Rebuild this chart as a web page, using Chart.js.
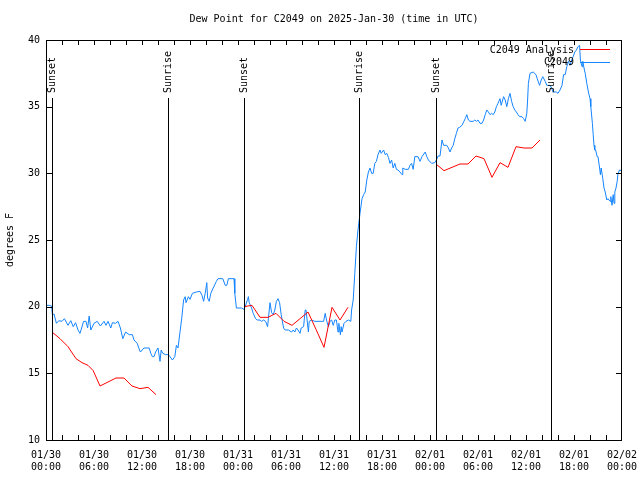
<!DOCTYPE html>
<html>
<head>
<meta charset="utf-8">
<title>Dew Point for C2049</title>
<script src="https://cdn.jsdelivr.net/npm/chart.js@4/dist/chart.umd.min.js"></script>
<style>
  html, body { margin: 0; padding: 0; background: #fff; }
  #chart { display: block; }
</style>
</head>
<body>
<canvas id="chart" width="640" height="480"></canvas>
<script>
// Hours after 2025-01-30 00:00 UTC
var dayLabels = ['01/30', '01/30', '01/30', '01/30', '01/31', '01/31', '01/31', '01/31', '02/01', '02/01', '02/01', '02/01', '02/02'];
var timeLabels = ['00:00', '06:00', '12:00', '18:00'];
var yTicks = [10, 15, 20, 25, 30, 35, 40];

// C2049 observations
var obsHours = [
  0.0, 0.4, 0.7, 0.8, 1.0, 1.3, 1.6, 2.0, 2.3, 2.75, 3.1, 3.4, 3.7, 4.0, 4.25, 4.7, 5.0, 5.2, 5.4, 5.6,
  6.0, 6.4, 6.8, 7.25, 7.5, 7.75, 8.1, 8.3, 8.7, 9.0, 9.3, 9.6, 9.95, 10.4, 10.8, 11.0, 11.4, 11.6, 11.8, 12.25,
  12.9, 13.1, 13.3, 13.5, 13.7, 14.0, 14.25, 14.4, 14.6, 14.96, 15.3, 15.5, 15.8, 16.1, 16.3, 16.5, 16.75, 16.96, 17.2, 17.4,
  17.5, 17.8, 18.0, 18.3, 18.8, 19.25, 19.5, 19.7, 19.9, 20.1, 20.2, 20.4, 20.6, 20.9, 21.3, 21.5, 22.1, 22.4, 22.6, 22.8,
  23.5, 23.6, 23.8, 24.45, 24.75, 24.9, 25.2, 25.3, 25.4, 25.7, 25.9, 26.2, 26.4, 26.75, 26.95, 27.2, 27.45, 27.7, 27.8, 28.0,
  28.2, 28.4, 28.6, 28.8, 29.0, 29.2, 29.4, 29.7, 29.9, 30.3, 30.7, 30.9, 31.1, 31.3, 31.5, 31.75, 31.9, 32.2, 32.4, 32.5,
  32.8, 32.9, 33.2, 33.6, 34.0, 34.4, 34.7, 34.9, 35.1, 35.3, 35.5, 35.7, 35.9, 36.1, 36.3, 36.5, 36.6, 36.8, 36.9, 37.0,
  37.25, 37.5, 37.8, 38.1, 38.2, 38.4, 38.6, 38.8, 39.0, 39.25, 39.5, 39.7, 39.9, 40.1, 40.3, 40.5, 40.7, 40.9, 41.1, 41.3,
  41.5, 41.75, 41.9, 42.2, 42.4, 42.6, 42.8, 43.0, 43.2, 43.4, 43.6, 43.8, 44.0, 44.25, 44.5, 44.6, 44.9, 45.3, 45.5, 45.7,
  45.9, 46.1, 46.5, 46.75, 47.0, 47.4, 47.6, 47.8, 48.2, 48.6, 48.8, 49.0, 49.25, 49.5, 49.7, 50.1, 50.3, 50.5, 50.7, 50.9,
  51.1, 51.3, 51.5, 51.7, 52.0, 52.1, 52.4, 52.6, 52.8, 53.0, 53.4, 53.6, 53.8, 54.0, 54.25, 54.5, 54.7, 54.9, 55.1, 55.3,
  55.5, 55.7, 55.9, 56.1, 56.3, 56.5, 56.75, 56.9, 57.2, 57.4, 57.6, 57.8, 58.0, 58.2, 58.4, 58.6, 58.8, 59.0, 59.2, 59.5,
  59.7, 59.9, 60.1, 60.2, 60.3, 60.5, 60.9, 61.25, 61.4, 61.7, 61.9, 62.1, 62.4, 62.6, 63.0, 63.2, 63.4, 63.8, 64.0, 64.25,
  64.5, 64.7, 64.9, 65.1, 65.3, 65.5, 65.7, 65.9, 66.1, 66.3, 66.5, 66.7, 66.8, 67.0, 67.1, 67.25, 67.4, 67.6, 67.8, 68.0,
  68.1, 68.3, 68.4, 68.5, 68.6, 68.7, 68.9, 69.0, 69.2, 69.3, 69.4, 69.6, 69.75, 69.9, 70.1, 70.25, 70.5, 70.6, 70.75, 70.9,
  71.0, 71.1, 71.25, 71.4, 71.5, 71.7, 71.9
];
var obsDewPoint = [
  20.1, 20.1, 20.05, 19.4, 19.45, 18.75, 18.95, 18.9, 19.1, 18.6, 18.95, 18.5, 18.8, 18.25, 18.0, 18.9, 18.9, 18.4, 19.3, 18.25,
  18.75, 18.9, 18.55, 18.9, 18.6, 18.9, 18.4, 18.8, 18.75, 18.9, 18.4, 17.6, 18.1, 17.9, 17.9, 17.5, 17.25, 16.9, 16.6, 16.9,
  16.9, 16.5, 16.25, 16.25, 16.6, 16.9, 15.9, 16.75, 16.5, 16.4, 16.4, 16.25, 16.0, 16.25, 17.1, 16.9, 18.1, 19.1, 20.5, 20.75,
  20.3, 20.75, 20.55, 21.0, 21.1, 21.15, 20.85, 20.4, 21.0, 21.8, 20.65, 20.4, 21.0, 21.4, 21.9, 22.1, 22.1, 21.6, 21.6, 22.1,
  22.1, 21.0, 19.9, 19.9, 19.8, 20.0, 20.55, 20.75, 20.3, 19.9, 19.5, 19.1, 19.0, 19.0, 18.9, 19.0, 18.9, 18.5, 19.1, 20.3,
  19.55, 19.4, 19.75, 20.4, 20.6, 20.3, 19.4, 18.4, 18.25, 18.25, 18.1, 18.25, 18.1, 18.4, 18.25, 18.0, 18.4, 18.5, 19.75, 19.75,
  18.1, 18.9, 19.0, 18.9, 18.9, 18.9, 18.9, 19.5, 18.9, 18.5, 18.9, 19.0, 18.6, 19.0, 19.0, 18.1, 18.75, 17.9, 18.5, 18.1,
  18.75, 18.9, 19.0, 18.9, 19.75, 20.5, 22.5, 24.5, 25.75, 27.0, 28.1, 28.4, 28.6, 29.5, 30.1, 30.4, 30.0, 30.0, 30.75, 30.9,
  31.4, 31.75, 31.5, 31.75, 31.4, 31.5, 31.2, 30.75, 31.0, 30.4, 30.75, 30.3, 30.25, 30.1, 29.9, 30.4, 30.3, 30.3, 30.6, 30.75,
  30.3, 31.25, 31.25, 30.9, 31.25, 31.6, 31.25, 31.0, 30.75, 30.8, 31.0, 31.3, 31.3, 32.5, 32.1, 32.1, 31.9, 31.6, 31.9, 32.1,
  32.6, 33.0, 33.4, 33.45, 33.6, 33.6, 34.1, 34.4, 34.0, 33.9, 33.9, 34.0, 33.9, 34.0, 33.75, 33.75, 34.0, 34.4, 34.75, 34.6,
  34.4, 34.5, 34.4, 34.6, 35.0, 35.25, 35.6, 35.1, 35.75, 35.5, 35.0, 35.6, 36.0, 35.4, 35.0, 34.75, 34.6, 34.4, 34.25, 34.25,
  34.1, 33.9, 34.5, 35.5, 36.75, 37.5, 37.6, 37.4, 37.1, 36.6, 37.0, 37.25, 36.9, 36.6, 36.6, 36.4, 36.1, 36.1, 36.0, 36.25,
  36.6, 37.4, 37.4, 38.0, 38.4, 38.1, 38.5, 38.75, 39.1, 39.25, 39.5, 39.6, 38.5, 38.0, 38.4, 37.9, 37.5, 36.75, 36.1, 35.6,
  35.0, 33.75, 32.9, 32.1, 31.75, 31.75, 31.25, 31.25, 30.4, 29.9, 30.4, 29.6, 28.9, 28.6, 28.0, 28.1, 27.9, 28.25, 27.6, 28.4,
  27.75, 28.6, 28.9, 29.4, 30.0, 30.25, 30.2
];

// C2049 Analysis (gaps between the three runs)
var anaHours = [
  0.75, 1.75, 2.75, 3.75, 4.5, 5.25, 5.9, 6.75, 7.75, 8.75, 9.75, 10.75, 11.75, 12.75, 13.75,
  19.0,
  24.75, 25.75, 26.75, 27.75, 28.75, 29.75, 30.75, 31.75, 32.75, 33.75, 34.75, 35.75, 36.75, 37.75,
  43.0,
  48.75, 49.75, 50.75, 51.75, 52.75, 53.75, 54.75, 55.75, 56.75, 57.75, 58.75, 59.75, 60.75, 61.75
];
var anaDewPoint = [
  18.1, 17.6, 17.0, 16.1, 15.8, 15.6, 15.2, 14.05, 14.35, 14.65, 14.65, 14.05, 13.85, 13.95, 13.4,
  null,
  20.0, 20.1, 19.2, 19.2, 19.5, 18.9, 18.6, 19.1, 19.6, 18.3, 16.95, 19.95, 19.0, 19.95,
  null,
  30.7, 30.2, 30.45, 30.7, 30.7, 31.3, 31.1, 29.7, 30.8, 30.45, 32.0, 31.9, 31.9, 32.5
];

// Sunrise / sunset markers
var sunHours = [0.78, 15.28, 24.78, 39.15, 48.78, 63.17];
var sunNames = ['Sunset', 'Sunrise', 'Sunset', 'Sunrise', 'Sunset', 'Sunrise'];

var FONT = "'DejaVu Sans Mono', 'Liberation Mono', monospace";
var RED = '#ff0000';
var BLUE = '#1484ff';

function toPoints(xs, ys) {
  return xs.map(function(x, i) { return { x: x, y: ys[i] }; });
}

// gnuplot-ish frame, inward ticks, sun lines, title, legend
var framePlugin = {
  id: 'frame',
  afterDatasetsDraw: function(chart) {
    var ctx = chart.ctx;
    var a = chart.chartArea;
    var xs = chart.scales.x;
    var ys = chart.scales.y;
    ctx.save();
    ctx.strokeStyle = '#000';
    ctx.lineWidth = 1;

    // sunrise / sunset
    ctx.fillStyle = '#000';
    ctx.font = '10px ' + FONT;
    for (var i = 0; i < sunHours.length; i++) {
      var sx = Math.round(xs.getPixelForValue(sunHours[i])) + 0.5;
      ctx.beginPath();
      ctx.moveTo(sx, 98);
      ctx.lineTo(sx, a.bottom);
      ctx.stroke();
      ctx.save();
      ctx.translate(sx, 93);
      ctx.rotate(-Math.PI / 2);
      ctx.textAlign = 'left';
      ctx.textBaseline = 'middle';
      ctx.fillText(sunNames[i], 0, 0);
      ctx.restore();
    }

    // border
    ctx.strokeRect(a.left + 0.5, a.top + 0.5, a.right - a.left - 1, a.bottom - a.top);

    // x ticks every 2 h, top and bottom
    ctx.beginPath();
    for (var h = 2; h < 72; h += 2) {
      var tx = Math.round(xs.getPixelForValue(h)) + 0.5;
      ctx.moveTo(tx, a.bottom);
      ctx.lineTo(tx, a.bottom - 5);
      ctx.moveTo(tx, a.top);
      ctx.lineTo(tx, a.top + 5);
    }
    // y ticks left and right
    for (var k = 1; k < yTicks.length - 1; k++) {
      var ty = Math.round(ys.getPixelForValue(yTicks[k])) + 0.5;
      ctx.moveTo(a.left, ty);
      ctx.lineTo(a.left + 6, ty);
      ctx.moveTo(a.right, ty);
      ctx.lineTo(a.right - 6, ty);
    }
    ctx.stroke();

    // title
    ctx.textAlign = 'center';
    ctx.textBaseline = 'middle';
    ctx.fillText('Dew Point for C2049 on 2025-Jan-30 (time in UTC)', (a.left + a.right) / 2, 19);

    // y axis title
    ctx.save();
    ctx.translate(10, 240);
    ctx.rotate(-Math.PI / 2);
    ctx.fillText('degrees F', 0, 0);
    ctx.restore();

    // legend
    ctx.textAlign = 'right';
    ctx.fillText('C2049 Analysis', 574, 50);
    ctx.fillText('C2049', 574, 62);
    ctx.fillStyle = RED;
    ctx.fillRect(580, 49, 30, 1);
    ctx.fillStyle = BLUE;
    ctx.fillRect(580, 62, 30, 1);
    ctx.restore();
  }
};

var chart = new Chart(document.getElementById('chart'), {
  type: 'line',
  data: {
    datasets: [
      {
        label: 'C2049 Analysis',
        data: toPoints(anaHours, anaDewPoint),
        borderColor: RED,
        borderWidth: 1,
        pointRadius: 0,
        tension: 0,
        spanGaps: false
      },
      {
        label: 'C2049',
        data: toPoints(obsHours, obsDewPoint),
        borderColor: BLUE,
        borderWidth: 1,
        pointRadius: 0,
        tension: 0
      }
    ]
  },
  options: {
    responsive: false,
    animation: false,
    layout: { padding: { top: 40, right: 18, left: 0, bottom: 0 } },
    plugins: {
      legend: { display: false },
      title: { display: false },
      tooltip: { enabled: false }
    },
    scales: {
      x: {
        type: 'linear',
        min: 0,
        max: 72,
        grid: { display: false, drawTicks: false },
        border: { display: false },
        afterFit: function(scale) {
          scale.height = 40;
          scale.paddingLeft = 0;
          scale.paddingRight = 0;
        },
        afterBuildTicks: function(scale) {
          scale.ticks = dayLabels.map(function(d, i) { return { value: i * 6 }; });
        },
        ticks: {
          autoSkip: false,
          maxRotation: 0,
          padding: 9,
          color: '#000',
          font: { family: FONT, size: 10, lineHeight: 1.25 },
          callback: function(v) {
            var i = Math.round(v / 6);
            return [dayLabels[i], timeLabels[i % 4]];
          }
        }
      },
      y: {
        min: 10,
        max: 40,
        grid: { display: false, drawTicks: false },
        border: { display: false },
        afterFit: function(scale) {
          scale.width = 46;
          scale.paddingTop = 0;
          scale.paddingBottom = 0;
        },
        afterBuildTicks: function(scale) {
          scale.ticks = yTicks.map(function(v) { return { value: v }; });
        },
        ticks: {
          padding: 6,
          color: '#000',
          font: { family: FONT, size: 10 }
        }
      }
    }
  },
  plugins: [framePlugin]
});
</script>
</body>
</html>
